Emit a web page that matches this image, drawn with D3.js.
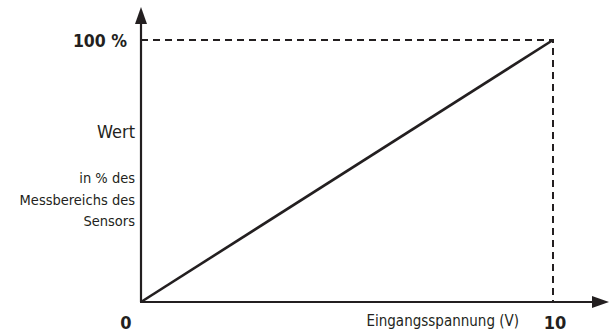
<!DOCTYPE html>
<html>
<head>
<meta charset="utf-8">
<script src="https://cdn.jsdelivr.net/npm/d3@7"></script>
<style>
  body { margin: 0; background: #fff; }
  text { font-family: "DejaVu Sans Condensed", "DejaVu Sans", sans-serif; fill: #231f20; }
</style>
</head>
<body>
<svg width="614" height="336"></svg>
<script>
const svg = d3.select("svg");

const voltage = [0, 10];
const percent = [0, 100];
const xTicks = ["0", "10"];
const yTickLabel = "100 %";
const yLabel = ["Wert"];
const yNote = ["in % des", "Messbereichs des", "Sensors"];
const xLabel = "Eingangsspannung (V)";

const ink = "#231f20";

const x = d3.scaleLinear().domain([0, 10]).range([141, 553]);
const y = d3.scaleLinear().domain([0, 100]).range([302, 40]);

// dashed guides to 100 % / 10 V
svg.append("path")
    .attr("d", `M${x(0)},${y(100)}H${x(10)}V${y(0)}`)
    .attr("fill", "none")
    .attr("stroke", ink)
    .attr("stroke-width", 2)
    .attr("stroke-dasharray", "7,5");

// axes with arrows
svg.append("line")
    .attr("x1", x(0)).attr("y1", y(0))
    .attr("x2", x(0)).attr("y2", 22)
    .attr("stroke", ink).attr("stroke-width", 2.2);
svg.append("path")
    .attr("d", `M${x(0)},7L${x(0) + 6},24L${x(0) - 6},24Z`)
    .attr("fill", ink);

svg.append("line")
    .attr("x1", x(0) - 1).attr("y1", y(0))
    .attr("x2", 595).attr("y2", y(0))
    .attr("stroke", ink).attr("stroke-width", 2.2);
svg.append("path")
    .attr("d", `M609,${y(0)}L592,${y(0) - 6}L592,${y(0) + 6}Z`)
    .attr("fill", ink);

// linear relation
const line = d3.line().x((d, i) => x(voltage[i])).y(d => y(d));
svg.append("path")
    .datum(percent)
    .attr("d", line)
    .attr("fill", "none")
    .attr("stroke", ink)
    .attr("stroke-width", 2.6);

// tick labels
svg.append("text")
    .attr("x", 127).attr("y", y(100) + 6.5)
    .attr("text-anchor", "end")
    .attr("font-size", 17.5).attr("font-weight", "bold")
    .text(yTickLabel);

svg.append("text")
    .attr("x", 126).attr("y", 329)
    .attr("text-anchor", "middle")
    .attr("font-size", 18).attr("font-weight", "bold")
    .text(xTicks[0]);
svg.append("text")
    .attr("x", 555).attr("y", 329)
    .attr("text-anchor", "middle")
    .attr("font-size", 18).attr("font-weight", "bold")
    .text(xTicks[1]);

// axis titles
svg.append("text")
    .attr("x", 135).attr("y", 138)
    .attr("text-anchor", "end")
    .attr("font-size", 18)
    .text(yLabel[0]);

yNote.forEach((t, i) => {
    svg.append("text")
        .attr("x", 135).attr("y", 183 + i * 21.5)
        .attr("text-anchor", "end")
        .attr("font-size", 14.5)
        .text(t);
});

svg.append("text")
    .attr("x", 519).attr("y", 326)
    .attr("text-anchor", "end")
    .attr("font-size", 15)
    .text(xLabel);
</script>
</body>
</html>
